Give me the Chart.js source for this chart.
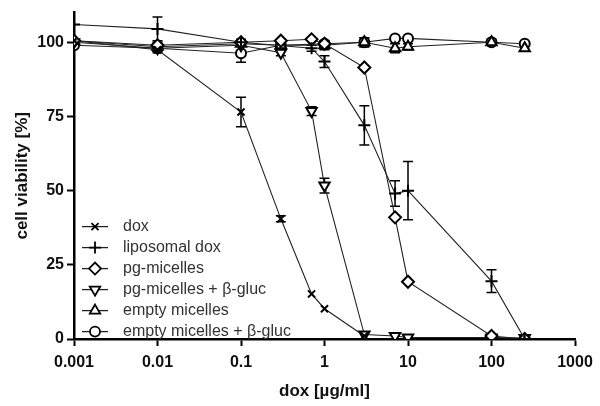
<!DOCTYPE html>
<html>
<head>
<meta charset="utf-8">
<script src="https://cdn.jsdelivr.net/npm/chart.js@4.4.0/dist/chart.umd.min.js"></script>
<style>
  html, body { margin: 0; padding: 0; background: #fff; }
  #wrap { width: 600px; height: 406px; }
</style>
</head>
<body>
<div id="wrap"><canvas id="viab"></canvas></div>
<script>
// Konzentrationen (µg/ml)
const conc = [0.001, 0.01, 0.1, 0.3, 0.7, 1, 3, 7, 10, 100, 250];

// Zellviabilität [%] je Formulierung (null = nicht gemessen)
const doxVals      = [100.5, 97.5, 76.5, 40.5, 15.2, 10.2, 1.0, null, null, null, null];
const liposVals    = [106, 104.5, 100, null, 98, 93.5, 72, 49, 50, 19.5, 0];
const pgVals       = [100.5, 99, 100, 100.5, 101, 99.5, 91.5, 41, 19.3, 1, 0];
const pgGlucVals   = [100, 98, 99, 96.5, 76.8, 51.7, 1.5, 1, 0.5, 0.5, 0.3];
const emptyVals    = [100.5, 98.5, 99.5, 99, null, 99, 100, 98, 98.5, 100, 98];
const emptyGlucVals= [99, 98, 96.3, 99, null, 99.5, 100, 101.3, 101.3, 100, 99.5];

// Fehlerbalken (SD)
const doxErr       = [0, 1, 5, 1, 0, 0, 0, 0, 0, 0, 0];
const liposErr     = [0, 4, 1, 0, 1, 2, 6.6, 4.3, 9.8, 3.8, 0];
const pgErr        = [0, 1, 0, 0, 0, 0, 0, 0, 0, 0, 0];
const pgGlucErr    = [0, 0, 0, 1, 1.5, 2.5, 0, 0, 0, 0, 0];
const emptyErr     = [0, 0, 0, 0, 0, 1.5, 1.5, 1.5, 1, 1, 1];
const emptyGlucErr = [0, 1, 3, 0, 0, 1, 1.5, 0, 0, 0, 0];

const labels = ['dox', 'liposomal dox', 'pg-micelles', 'pg-micelles + \u03b2-gluc', 'empty micelles', 'empty micelles + \u03b2-gluc'];
const xTicks = [0.001, 0.01, 0.1, 1, 10, 100, 1000];
const xTickLabels = ['0.001', '0.01', '0.1', '1', '10', '100', '1000'];
const yTicks = [0, 25, 50, 75, 100];

const FONT = '"Liberation Sans", Arial, sans-serif';

function pts(vals, errs) {
    const out = [];
    conc.forEach((c, i) => {
        if (vals[i] !== null) out.push({ x: c, y: vals[i], e: errs[i] });
    });
    return out;
}

function series(label, vals, errs, style, rot, r) {
    return {
        label: label,
        data: pts(vals, errs),
        showLine: true,
        borderColor: '#222',
        borderWidth: 1.1,
        pointStyle: style,
        pointRotation: rot || 0,
        pointRadius: r || 5.5,
        pointBorderWidth: 2,
        pointBorderColor: '#000',
        pointBackgroundColor: '#fff'
    };
}

const datasets = [
    series(labels[0], doxVals, doxErr, 'crossRot', 0, 5),
    series(labels[1], liposVals, liposErr, 'cross', 0, 6),
    series(labels[2], pgVals, pgErr, 'rectRot', 0, 6),
    series(labels[3], pgGlucVals, pgGlucErr, 'triangle', 180, 6),
    series(labels[4], emptyVals, emptyErr, 'triangle', 0, 6),
    series(labels[5], emptyGlucVals, emptyGlucErr, 'circle', 0, 5)
];

// Fehlerbalken zeichnen
const errorBars = {
    id: 'errorBars',
    beforeDatasetsDraw(chart) {
        const ctx = chart.ctx;
        const xs = chart.scales.x, ys = chart.scales.y;
        ctx.save();
        ctx.strokeStyle = '#000';
        ctx.lineWidth = 1.5;
        chart.data.datasets.forEach(ds => {
            ds.data.forEach(p => {
                if (!p.e) return;
                const px = xs.getPixelForValue(p.x);
                const top = ys.getPixelForValue(p.y + p.e);
                const bot = ys.getPixelForValue(Math.max(0, p.y - p.e));
                ctx.beginPath();
                ctx.moveTo(px, top); ctx.lineTo(px, bot);
                ctx.moveTo(px - 5, top); ctx.lineTo(px + 5, top);
                ctx.moveTo(px - 5, bot); ctx.lineTo(px + 5, bot);
                ctx.stroke();
            });
        });
        ctx.restore();
    }
};

// Legende innerhalb der Grafik, unten links
const innerLegend = {
    id: 'innerLegend',
    afterDraw(chart) {
        const ctx = chart.ctx;
        const area = chart.chartArea;
        const x0 = area.left + 8, y0 = area.top + 214, step = 21;
        ctx.save();
        ctx.font = '16px ' + FONT;
        ctx.textBaseline = 'middle';
        chart.data.datasets.forEach((ds, i) => {
            const y = y0 + i * step;
            ctx.strokeStyle = '#222';
            ctx.lineWidth = 1.3;
            ctx.beginPath();
            ctx.moveTo(x0, y); ctx.lineTo(x0 + 26, y);
            ctx.stroke();
            ctx.fillStyle = '#fff';
            ctx.strokeStyle = '#000';
            ctx.lineWidth = 1.8;
            Chart.helpers.drawPoint(ctx, {
                pointStyle: ds.pointStyle,
                rotation: ds.pointRotation,
                radius: ds.pointRadius,
                borderWidth: 1.8
            }, x0 + 13, y);
            ctx.fillStyle = '#333';
            ctx.fillText(ds.label, x0 + 41, y);
        });
        ctx.restore();
    }
};

new Chart(document.getElementById('viab'), {
    type: 'scatter',
    data: { datasets: datasets },
    plugins: [errorBars, innerLegend],
    options: {
        responsive: true,
        maintainAspectRatio: false,
        animation: false,
        layout: { padding: { top: 5, right: 25, left: 0, bottom: 0 } },
        plugins: { legend: { display: false }, tooltip: { enabled: false } },
        scales: {
            x: {
                type: 'logarithmic',
                min: 0.001,
                max: 1000,
                afterBuildTicks: s => { s.ticks = xTicks.map(v => ({ value: v })); },
                afterFit: s => { s.height = 67; },
                ticks: {
                    autoSkip: false,
                    maxRotation: 0,
                    color: '#111',
                    padding: 7,
                    font: { family: FONT, size: 16, weight: 'bold' },
                    callback: (v) => {
                        const i = xTicks.indexOf(v);
                        return i >= 0 ? xTickLabels[i] : '';
                    }
                },
                grid: { drawOnChartArea: false, tickLength: 7, tickWidth: 2, tickColor: '#000' },
                border: { color: '#000', width: 2.5 },
                title: {
                    display: true,
                    text: 'dox [\u00b5g/ml]',
                    color: '#111',
                    padding: { top: 4 },
                    font: { family: FONT, size: 17, weight: 'bold' }
                }
            },
            y: {
                min: 0,
                max: 110,
                afterBuildTicks: s => { s.ticks = yTicks.map(v => ({ value: v })); },
                afterFit: s => { s.width = 74; },
                ticks: {
                    color: '#111',
                    padding: 3,
                    font: { family: FONT, size: 16, weight: 'bold' }
                },
                grid: { drawOnChartArea: false, tickLength: 7, tickWidth: 2, tickColor: '#000' },
                border: { color: '#000', width: 2.5 },
                title: {
                    display: true,
                    text: 'cell viability [%]',
                    color: '#111',
                    padding: { top: 12, bottom: 0 },
                    font: { family: FONT, size: 17, weight: 'bold' }
                }
            }
        }
    }
});
</script>
</body>
</html>
